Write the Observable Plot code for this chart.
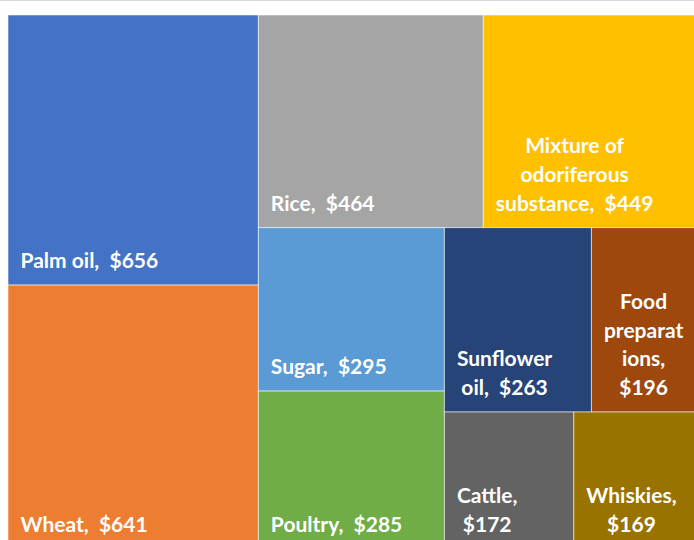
<!DOCTYPE html>
<html><head><meta charset="utf-8">
<script src="https://cdn.jsdelivr.net/npm/d3@7"></script>
<script src="https://cdn.jsdelivr.net/npm/@observablehq/plot@0.6"></script>
<style>
html,body{margin:0;padding:0;background:#fff;}
#chart{position:relative;width:694px;height:540px;overflow:hidden;}
#topline{position:absolute;left:0;top:0;width:694px;height:1px;background:#d9d9d9;}
svg text{white-space:pre;}
</style></head><body>
<div id="chart"><div id="topline"></div></div>
<script>
const categories = ["Palm oil","Wheat","Rice","Mixture of odoriferous substance","Sugar","Poultry","Sunflower oil","Food preparations","Cattle","Whiskies"];
const values = [656,641,464,449,295,285,263,196,172,169];
const labelLines = [
  ["Palm oil,  $656"],
  ["Wheat,  $641"],
  ["Rice,  $464"],
  ["Mixture of","odoriferous","substance,  $449"],
  ["Sugar,  $295"],
  ["Poultry,  $285"],
  ["Sunflower","oil,  $263"],
  ["Food","preparat","ions,","$196"],
  ["Cattle,","$172"],
  ["Whiskies,","$169"]
];
const colors = ["#4472C4","#ED7D31","#A5A5A5","#FFC000","#5B9BD5","#70AD47","#264478","#9E480E","#636363","#997300"];

const FONT_FAMILY = "Lato";
const FONT_SIZE = 21;
const LINE_PX = 28.6;

const root = d3.hierarchy({children: categories.map((c,i)=>({name:c, value:values[i], i}))})
  .sum(d => d.value || 0)
  .sort((a,b) => b.value - a.value);
d3.treemap().tile(d3.treemapSquarify.ratio(1)).size([693,534])(root);

const ctx = document.createElement("canvas").getContext("2d");
ctx.font = `bold ${FONT_SIZE}px ${FONT_FAMILY}`;

const cells = root.leaves().map(l => {
  const i = l.data.i;
  const lines = labelLines[i];
  const maxW = d3.max(lines, s => ctx.measureText(s).width);
  return {
    name: l.data.name, x0: l.x0, x1: l.x1, y0: l.y0, y1: l.y1,
    color: colors[i], label: lines.join("\n"),
    tx: l.x0 + 12 + maxW/2, ty: l.y1 - 17.5
  };
});

const plot = Plot.plot({
  width: 694, height: 540,
  marginLeft: 8, marginRight: 0, marginTop: 15, marginBottom: 0,
  x: {domain: [0, 686], axis: null},
  y: {domain: [0, 525], reverse: true, axis: null},
  color: {type: "identity"},
  style: {background: "transparent"},
  marks: [
    Plot.rect(cells, {x1: "x0", x2: "x1", y1: "y0", y2: "y1", fill: "color",
      stroke: "white", strokeOpacity: 0.55, strokeWidth: 1, clip: true}),
    Plot.text(cells, {x: "tx", y: "ty", text: "label", fill: "white",
      fontSize: FONT_SIZE, fontWeight: "bold", fontFamily: FONT_FAMILY,
      lineAnchor: "bottom", lineHeight: LINE_PX / FONT_SIZE, textAnchor: "middle", clip: true})
  ]
});
document.getElementById("chart").appendChild(plot);
</script>
</body></html>
